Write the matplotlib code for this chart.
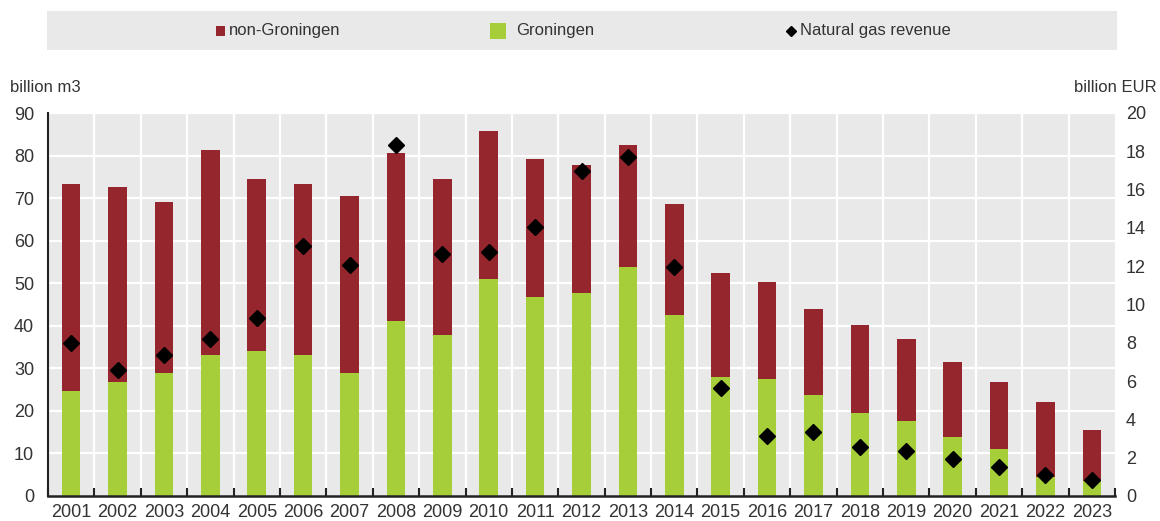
import matplotlib
matplotlib.use("Agg")
import matplotlib.pyplot as plt
import numpy as np
from matplotlib.patches import Rectangle
from matplotlib.lines import Line2D

years = ["2001", "2002", "2003", "2004", "2005", "2006", "2007", "2008", "2009", "2010", "2011", "2012",
         "2013", "2014", "2015", "2016", "2017", "2018", "2019", "2020", "2021", "2022", "2023"]
total = [73.4, 72.5, 69.2, 81.4, 74.4, 73.4, 70.6, 80.5, 74.4, 85.7, 79.1, 77.7,
         82.4, 68.7, 52.3, 50.4, 43.9, 40.1, 36.8, 31.6, 26.9, 22.2, 15.6]
groningen = [24.7, 26.9, 28.8, 33.1, 34.0, 33.1, 28.8, 41.1, 37.8, 50.9, 46.7, 47.7,
             53.8, 42.5, 28.0, 27.4, 23.7, 19.5, 17.6, 13.8, 11.0, 4.4, 3.5]
revenue = [7.99, 6.56, 7.38, 8.22, 9.27, 13.04, 12.08, 18.34, 12.62, 12.72, 14.07, 16.98,
           17.71, 11.97, 5.62, 3.11, 3.32, 2.58, 2.37, 1.95, 1.54, 1.12, 0.84]
non_groningen = [t - g for t, g in zip(total, groningen)]

RED = "#96262d"
GREEN = "#a6ce39"
BG = "#e9e9e9"
TXT = "#333333"

plt.rcParams['font.family'] = ['Liberation Sans', 'DejaVu Sans']

fig = plt.figure(figsize=(11.6, 5.21), dpi=100)
W, H = 1160, 521
ax = fig.add_axes([48 / W, (H - 496) / H, (1115 - 48) / W, (496 - 113) / H])
ax.set_facecolor(BG)

x = np.arange(len(years))
ax.bar(x, groningen, width=0.4, color=GREEN, zorder=3)
ax.bar(x, non_groningen, width=0.4, bottom=groningen, color=RED, zorder=3)

ax.set_xlim(-0.5, len(years) - 0.5)
ax.set_ylim(0, 90)
ax.set_yticks(np.arange(0, 91, 10))
ax.set_xticks(x)
ax.set_xticklabels(years)
ax.set_xticks(np.arange(-0.5, len(years), 1), minor=True)

ax.grid(False)
for yv in np.arange(10, 91, 10):
    ax.axhline(yv, color="white", lw=1.6, zorder=1)
for xv in np.arange(0.5, len(years) - 0.5, 1):
    ax.axvline(xv, color="white", lw=1.6, zorder=1)

for s in ["top", "right"]:
    ax.spines[s].set_visible(False)
ax.spines["left"].set_color("#222222")
ax.spines["bottom"].set_color("#222222")
ax.spines["left"].set_linewidth(1.5)
ax.spines["bottom"].set_linewidth(1.8)
ax.spines["left"].set_zorder(5)
ax.spines["bottom"].set_zorder(5)

ax.tick_params(axis="x", which="major", length=0, pad=6, labelsize=13, labelcolor=TXT)
ax.tick_params(axis="x", which="minor", direction="in", length=6, width=1.5, color="#222222")
ax.tick_params(axis="y", length=0, pad=10, labelsize=13, labelcolor=TXT)

ax2 = ax.twinx()
ax2.set_ylim(0, 20)
ax2.set_yticks(np.arange(0, 21, 2))
for s in ["top", "right", "left", "bottom"]:
    ax2.spines[s].set_visible(False)
ax2.tick_params(axis="y", length=0, pad=8, labelsize=13, labelcolor=TXT)
ax2.plot(x, revenue, linestyle="none", marker="D", markersize=8, color="black", zorder=6)

fig.text(10 / W, 1 - 88 / H, "billion m3", ha="left", va="center", fontsize=12, color=TXT)
fig.text(1157 / W, 1 - 88 / H, "billion EUR", ha="right", va="center", fontsize=12, color=TXT)

# legend band
fig.patches.append(Rectangle((47 / W, 1 - 50 / H), (1117 - 47) / W, 39 / H,
                             transform=fig.transFigure, facecolor=BG, edgecolor="none", zorder=0))
ly = 1 - 31 / H
fig.patches.append(Rectangle((216 / W, ly - 4.5 / H), 9 / W, 9 / H, transform=fig.transFigure,
                             facecolor=RED, edgecolor="none"))
fig.text(229 / W, ly, "non-Groningen", ha="left", va="center", fontsize=12, color=TXT)
fig.patches.append(Rectangle((490 / W, ly - 8 / H), 16 / W, 16 / H, transform=fig.transFigure,
                             facecolor=GREEN, edgecolor="none"))
fig.text(516 / W, ly, "Groningen", ha="left", va="center", fontsize=12, color=TXT)
fig.lines.append(Line2D([791 / W], [ly], transform=fig.transFigure, marker="D", markersize=5,
                        color="black", linestyle="none"))
fig.text(800 / W, ly, "Natural gas revenue", ha="left", va="center", fontsize=12, color=TXT)

fig.savefig("out.png", dpi=100)
